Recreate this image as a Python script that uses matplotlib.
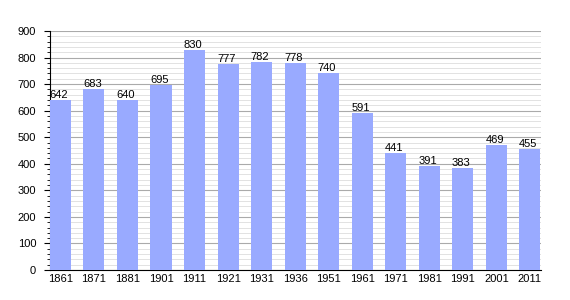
import matplotlib

matplotlib.use("Agg")
import matplotlib.pyplot as plt
from matplotlib.ticker import MultipleLocator

years = ["1861", "1871", "1881", "1901", "1911", "1921", "1931", "1936",
         "1951", "1961", "1971", "1981", "1991", "2001", "2011"]
population = [642, 683, 640, 695, 830, 777, 782, 778, 740, 591, 441, 391, 383, 469, 455]

plt.rcParams["font.family"] = ["Liberation Sans", "DejaVu Sans"]

fig = plt.figure(figsize=(5.7, 3.0), dpi=100)
ax = fig.add_axes([50 / 570, 0.1, 491 / 570, 239 / 300])

xs = list(range(len(years)))
ax.bar(xs, population, width=0.63, color="#99aaff", zorder=3)
for x, v in zip(xs, population):
    ax.text(x - 0.05, v, str(v), ha="center", va="bottom", fontsize=8, zorder=4)

ax.set_xlim(-0.31, len(years) - 1 + 0.33)
ax.set_ylim(0, 900)
ax.yaxis.set_major_locator(MultipleLocator(100))
ax.yaxis.set_minor_locator(MultipleLocator(20))
ax.grid(axis="y", which="major", color="#aaaaaa", linewidth=0.8, zorder=1)
ax.grid(axis="y", which="minor", color="#dddddd", linewidth=0.6, zorder=1)
ax.set_xticks(xs)
ax.set_xticklabels(years)
ax.tick_params(axis="x", length=0, labelsize=8, pad=3)
ax.tick_params(axis="y", which="major", length=4, labelsize=8, pad=6)
ax.tick_params(axis="y", which="minor", length=2)

for s in ("top", "right"):
    ax.spines[s].set_visible(False)
ax.spines["left"].set_color("black")
ax.spines["bottom"].set_color("black")

fig.savefig("out.png", dpi=100)
